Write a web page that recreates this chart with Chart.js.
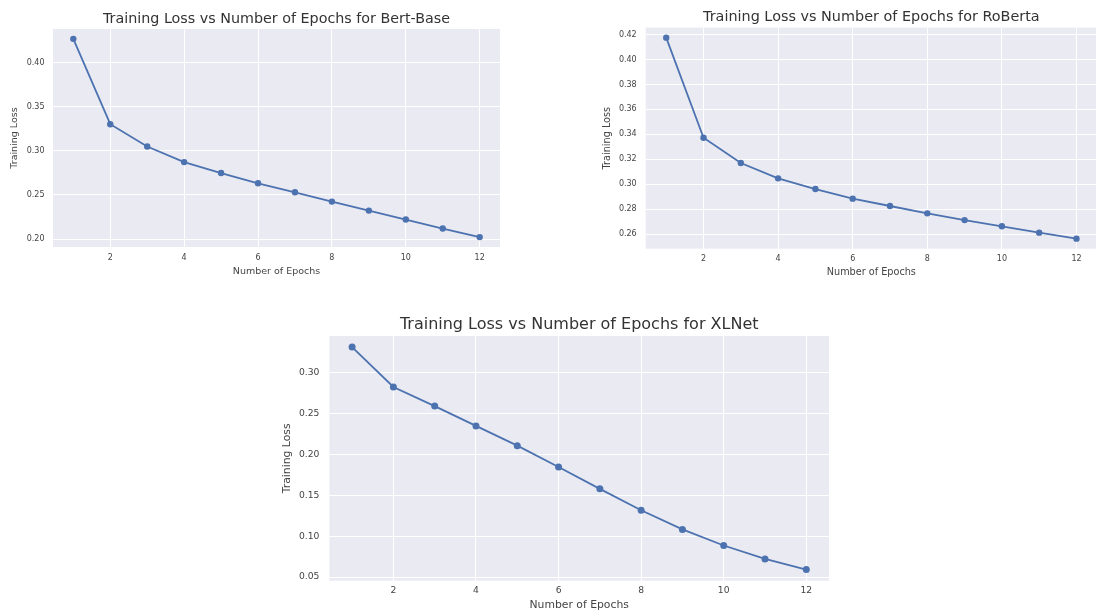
<!DOCTYPE html>
<html>
<head>
<meta charset="utf-8">
<script src="https://cdn.jsdelivr.net/npm/chart.js@4.4.1/dist/chart.umd.min.js"></script>
<style>
  body { margin: 0; background: #fff; width: 1096px; height: 613px; overflow: hidden; position: relative; }
  .box { position: absolute; }
</style>
</head>
<body>
<div class="box" style="left:0px;top:0px;width:520px;height:290px"><canvas id="bertChart"></canvas></div>
<div class="box" style="left:590px;top:0px;width:507px;height:290px"><canvas id="robertaChart"></canvas></div>
<div class="box" style="left:270px;top:305px;width:559px;height:308px"><canvas id="xlnetChart"></canvas></div>
<script>
const epochs = [1, 2, 3, 4, 5, 6, 7, 8, 9, 10, 11, 12];
const epochTicks = [2, 4, 6, 8, 10, 12];

const bertLoss = [0.4267, 0.3301, 0.3049, 0.2872, 0.2748, 0.2632, 0.2530, 0.2425, 0.2323, 0.2222, 0.2120, 0.2023];
const robertaLoss = [0.4176, 0.3373, 0.3170, 0.3047, 0.2961, 0.2884, 0.2825, 0.2766, 0.2712, 0.2662, 0.2611, 0.2563];
const xlnetLoss = [0.3316, 0.2828, 0.2594, 0.2351, 0.2109, 0.1847, 0.1580, 0.1317, 0.1083, 0.0886, 0.0722, 0.0591];

const bertTicks = [0.20, 0.25, 0.30, 0.35, 0.40];
const robertaTicks = [0.26, 0.28, 0.30, 0.32, 0.34, 0.36, 0.38, 0.40, 0.42];
const xlnetTicks = [0.05, 0.10, 0.15, 0.20, 0.25, 0.30];

const FONT = "'DejaVu Sans', sans-serif";
const BLUE = '#4C72B0';
const TEXT = '#333';
const LABEL = '#444';

// seaborn-style grey plot area
const bgPlugin = {
    id: 'plotBg',
    beforeDraw(chart) {
        const { ctx, chartArea: a } = chart;
        ctx.save();
        ctx.fillStyle = '#EAEAF2';
        ctx.fillRect(a.left, a.top, a.width, a.height);
        ctx.restore();
    }
};

function makeChart(id, loss, yTicks, c) {
    const lo = Math.min(...loss), hi = Math.max(...loss);
    const m = (hi - lo) * 0.05;
    return new Chart(document.getElementById(id), {
        type: 'line',
        data: {
            datasets: [{
                data: epochs.map((e, i) => ({ x: e, y: loss[i] })),
                borderColor: BLUE, backgroundColor: BLUE, borderWidth: 1.8,
                pointRadius: c.r, pointBorderWidth: 0, tension: 0
            }]
        },
        options: {
            responsive: true, maintainAspectRatio: false, animation: false,
            layout: { autoPadding: false, padding: { left: 0, right: c.padRight, top: 0, bottom: 0 } },
            plugins: {
                legend: { display: false }, tooltip: { enabled: false },
                title: {
                    display: true, fullSize: false, text: c.title, color: TEXT,
                    font: { family: FONT, size: c.titleSize, weight: 'normal' },
                    padding: { top: c.titleTop, bottom: c.titleBottom }
                }
            },
            scales: {
                x: {
                    type: 'linear', min: 0.45, max: 12.55,
                    afterBuildTicks: ax => { ax.ticks = epochTicks.map(v => ({ value: v })); },
                    afterFit: ax => { ax.height = c.xH; },
                    grid: { color: '#fff', lineWidth: 1, drawTicks: false },
                    border: { display: false },
                    ticks: { color: LABEL, font: { family: FONT, size: c.tickSize }, padding: c.xTickPad, maxRotation: 0, callback: v => v },
                    title: { display: true, text: 'Number of Epochs', color: LABEL, font: { family: FONT, size: c.labelSize }, padding: { top: 0, bottom: c.xTitleBottom } }
                },
                y: {
                    min: lo - m, max: hi + m,
                    afterBuildTicks: ax => { ax.ticks = yTicks.map(v => ({ value: v })); },
                    afterFit: ax => { ax.width = c.yW; },
                    grid: { color: '#fff', lineWidth: 1, drawTicks: false },
                    border: { display: false },
                    ticks: { color: LABEL, font: { family: FONT, size: c.tickSize }, padding: c.yTickPad, callback: v => v.toFixed(2) },
                    title: { display: true, text: 'Training Loss', color: LABEL, font: { family: FONT, size: c.labelSize }, padding: { top: c.yTitleTop, bottom: 0 } }
                }
            }
        },
        plugins: [bgPlugin]
    });
}

makeChart('bertChart', bertLoss, bertTicks, {
    title: 'Training Loss vs Number of Epochs for Bert-Base',
    titleSize: 14.3, titleTop: 10.9, titleBottom: 0.9,
    tickSize: 8, labelSize: 9.5, r: 3.2,
    yW: 53, yTickPad: 8.5, yTitleTop: 9.3,
    xH: 43, xTickPad: 6.5, xTitleBottom: 12.3, padRight: 20
});

makeChart('robertaChart', robertaLoss, robertaTicks, {
    title: 'Training Loss vs Number of Epochs for RoBerta',
    titleSize: 14.4, titleTop: 8.6, titleBottom: 1.7,
    tickSize: 8, labelSize: 9.7, r: 3.2,
    yW: 55.7, yTickPad: 9, yTitleTop: 11.2,
    xH: 41.3, xTickPad: 5.8, xTitleBottom: 11.5, padRight: 0
});

makeChart('xlnetChart', xlnetLoss, xlnetTicks, {
    title: 'Training Loss vs Number of Epochs for XLNet',
    titleSize: 16, titleTop: 10.4, titleBottom: 1.4,
    tickSize: 9.2, labelSize: 10.8, r: 3.5,
    yW: 59.4, yTickPad: 10, yTitleTop: 11,
    xH: 32.3, xTickPad: 4.8, xTitleBottom: 1.5, padRight: 0
});
</script>
</body>
</html>
